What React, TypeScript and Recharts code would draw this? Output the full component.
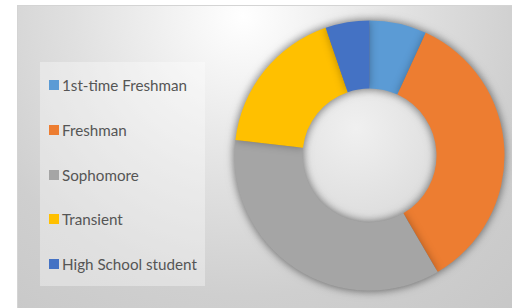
import React from 'react';
import { PieChart, Pie, Cell } from 'recharts';

const categories = ['1st-time Freshman', 'Freshman', 'Sophomore', 'Transient', 'High School student'];
const counts = [13, 66, 67, 34, 10];
const colors = ['#5B9BD5', '#ED7D31', '#A5A5A5', '#FFC000', '#4472C4'];

const hole = [{ name: 'hole', value: 1 }];

const data = categories.map((name, i) => ({ name, value: counts[i] }));

// legend drawn as plain html, same order as the data
const LegendBox = () => (
  <div
    style={{
      position: 'absolute',
      left: 40,
      top: 62,
      width: 165,
      height: 224,
      background: 'rgba(255,255,255,0.35)',
      boxSizing: 'border-box',
      paddingTop: 1,
    }}
  >
    {categories.map((name, i) => (
      <div key={name} style={{ display: 'flex', alignItems: 'center', height: 44.7, paddingLeft: 9 }}>
        <span style={{ width: 10, height: 10, background: colors[i], marginRight: 3, display: 'inline-block', flex: 'none' }} />
        <span style={{ fontFamily: 'Lato', fontSize: 15.2, color: '#555555', whiteSpace: 'nowrap' }}>{name}</span>
      </div>
    ))}
  </div>
);

export default function App() {
  return (
    <div style={{ position: 'absolute', left: 0, top: 0, width: 512, height: 308, overflow: 'hidden', background: '#fff' }}>
      <style>{`.donut-ring { filter: drop-shadow(0 0 4px rgba(0,0,0,0.3)); }`}</style>
      <div
        style={{
          position: 'absolute',
          left: 17,
          top: 5,
          width: 600,
          height: 400,
          border: '1px solid #d4d4d4',
          background: 'radial-gradient(circle at 225px 10px, #ffffff 0px, #f4f4f4 60px, #e0e0e0 170px, #cfcfcf 280px, #c6c6c6 420px)',
        }}
      />
      <LegendBox />
      <div style={{ position: 'absolute', left: 0, top: 0 }}>
        <PieChart width={512} height={308} margin={{ top: 0, right: 0, bottom: 0, left: 0 }}>
          <defs>
            <radialGradient id="holeGrad" cx="40%" cy="30%" r="75%">
              <stop offset="0%" stopColor="#f0f0f0" />
              <stop offset="100%" stopColor="#dcdcdc" />
            </radialGradient>
          </defs>
          <Pie
            data={hole}
            dataKey="value"
            cx={369.5}
            cy={155.5}
            innerRadius={0}
            outerRadius={68}
            fill="url(#holeGrad)"
            stroke="none"
            isAnimationActive={false}
          />
          <Pie
            className="donut-ring"
            data={data}
            dataKey="value"
            nameKey="name"
            cx={369.5}
            cy={155.5}
            innerRadius={67}
            outerRadius={135}
            startAngle={90}
            endAngle={-270}
            stroke="none"
            isAnimationActive={false}
          >
            {data.map((d, i) => (
              <Cell key={d.name} fill={colors[i]} />
            ))}
          </Pie>
        </PieChart>
      </div>
    </div>
  );
}
